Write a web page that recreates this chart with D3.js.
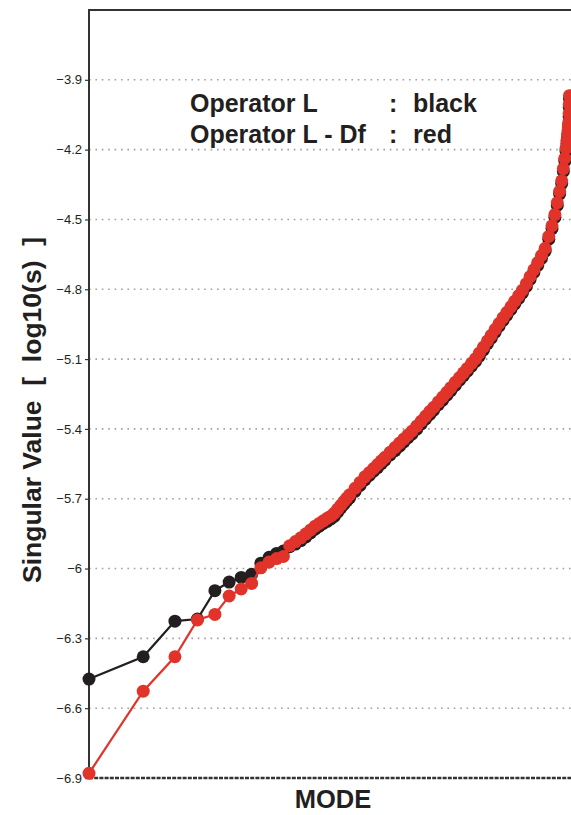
<!DOCTYPE html>
<html><head><meta charset="utf-8">
<script src="https://cdn.jsdelivr.net/npm/d3@7"></script>
<style>html,body{margin:0;padding:0;background:#fff;} svg{display:block;}</style>
</head><body>
<svg id="chart" width="571" height="815"></svg>
<script>
const modes = [1,2,3,4,5,6,7,8,9,10,11,12,13,14,15,16,17,18,19,20,21,22,23,24,25,26,27,28,
  30,32,34,36,38,40,42,44,47,50,53,56,59,62,66,70,74,78,82,87,92,97,102,108,114,120,126,133,140,147,
  155,163,171,180,189,199,209,220,231,243,255,268,281,295,310,325,341,357,372,386,
  398,410,421,430,438,445,450,454,457,459,461,462,463,464,465];

const blackValues = [-6.475,-6.379,-6.226,-6.217,-6.095,-6.058,-6.038,-6.024,-5.977,-5.952,-5.935,-5.925,-5.906,-5.895,-5.880,-5.864,-5.847,-5.831,-5.818,-5.806,-5.797,-5.787,-5.776,-5.758,-5.740,-5.724,-5.709,-5.696,
  -5.668,-5.643,-5.619,-5.600,-5.582,-5.566,-5.549,-5.534,-5.512,-5.493,-5.474,-5.456,-5.438,-5.423,-5.401,-5.378,-5.357,-5.338,-5.319,-5.296,-5.276,-5.255,-5.236,-5.213,-5.191,-5.171,-5.152,-5.130,-5.110,-5.087,
  -5.060,-5.034,-5.010,-4.984,-4.959,-4.934,-4.911,-4.887,-4.863,-4.839,-4.816,-4.788,-4.758,-4.728,-4.697,-4.667,-4.636,-4.585,-4.539,-4.491,
  -4.440,-4.391,-4.346,-4.294,-4.249,-4.206,-4.175,-4.148,-4.129,-4.113,-4.100,-4.090,-4.058,-4.018,-3.980];

const redValues = [-6.880,-6.527,-6.379,-6.221,-6.197,-6.118,-6.088,-6.064,-5.997,-5.972,-5.957,-5.948,-5.902,-5.884,-5.868,-5.851,-5.834,-5.818,-5.806,-5.795,-5.784,-5.775,-5.762,-5.745,-5.728,-5.712,-5.697,-5.683,
  -5.655,-5.630,-5.606,-5.588,-5.570,-5.553,-5.537,-5.522,-5.500,-5.480,-5.461,-5.443,-5.426,-5.410,-5.388,-5.366,-5.345,-5.325,-5.307,-5.284,-5.263,-5.243,-5.223,-5.200,-5.179,-5.159,-5.140,-5.118,-5.098,-5.074,
  -5.048,-5.022,-4.998,-4.972,-4.947,-4.922,-4.899,-4.875,-4.851,-4.827,-4.804,-4.776,-4.746,-4.716,-4.685,-4.655,-4.624,-4.573,-4.527,-4.479,
  -4.428,-4.379,-4.334,-4.282,-4.237,-4.194,-4.163,-4.137,-4.118,-4.102,-4.091,-4.080,-4.045,-4.005,-3.968];

const yTicks = [-3.9,-4.2,-4.5,-4.8,-5.1,-5.4,-5.7,-6.0,-6.3,-6.6,-6.9];
const legendNames = ["Operator L", "Operator L - Df"];
const legendColours = ["black", "red"];
const xTitle = "MODE";
const yTitle = "Singular Value  [  log10(s)  ]";

const svg = d3.select("#chart");
const L = 89, T = 10, B = 778, R = 577;
const x = d3.scaleLog().domain([1, 512]).range([L, R]);
const y = d3.scaleLinear().domain([-6.9, -3.6]).range([B, T]);
const font = "'Liberation Sans', Arial, Helvetica, sans-serif";
const ink = "#231f20";
const redC = "#e1332a";

// grid
svg.append("g").selectAll("line").data(yTicks.filter(d => d > -6.85)).join("line")
  .attr("x1", L).attr("x2", R).attr("y1", d => y(d)).attr("y2", d => y(d))
  .attr("stroke", "#a0a0a0").attr("stroke-width", 1.6).attr("stroke-dasharray", "1.6,4.8");

// y axis
const fmt = v => Math.abs(v - Math.round(v)) < 1e-9 ? d3.format("d")(v) : d3.format(".1f")(v);
const ax = svg.append("g").attr("transform", `translate(${L},0)`)
  .call(d3.axisLeft(y).tickValues(yTicks).tickSize(4).tickPadding(3).tickFormat(fmt));
ax.select(".domain").remove();
ax.selectAll(".tick line").attr("stroke", "#333").attr("stroke-width", 1.2);
ax.selectAll(".tick text").attr("font-family", font).attr("font-size", 13).attr("fill", ink);

// frame
svg.append("line").attr("x1", L).attr("x2", L).attr("y1", T - 1).attr("y2", B).attr("stroke", "#333").attr("stroke-width", 2);
svg.append("line").attr("x1", L - 1).attr("x2", R).attr("y1", T).attr("y2", T).attr("stroke", "#333").attr("stroke-width", 2);
svg.append("line").attr("x1", L).attr("x2", R).attr("y1", B).attr("y2", B).attr("stroke", "#333").attr("stroke-width", 2.4).attr("stroke-dasharray", "4,1.2");

// series
const series = [
  {vals: blackValues, col: ink},
  {vals: redValues, col: redC}
];
const line = d3.line().x(d => x(d[0])).y(d => y(d[1]));
series.forEach(s => {
  const pts = modes.map((m, i) => [m, s.vals[i]]);
  const g = svg.append("g");
  g.append("path").datum(pts).attr("d", line).attr("fill", "none").attr("stroke", s.col).attr("stroke-width", 2.2);
  g.selectAll("circle").data(pts).join("circle")
    .attr("cx", d => x(d[0])).attr("cy", d => y(d[1])).attr("r", 6.5).attr("fill", s.col);
});

// legend
const lg = svg.append("g").attr("font-family", font).attr("font-weight", "bold").attr("font-size", 25).attr("fill", ink);
legendNames.forEach((n, i) => {
  const by = 111.5 + i * 31.5;
  lg.append("text").attr("x", 190).attr("y", by).text(n);
  lg.append("text").attr("x", 389).attr("y", by).text(":");
  lg.append("text").attr("x", 413).attr("y", by).text(legendColours[i]);
});

// titles
svg.append("text").attr("x", 333).attr("y", 808).attr("text-anchor", "middle")
  .attr("font-family", font).attr("font-weight", "bold").attr("font-size", 25.5).attr("fill", ink).text(xTitle);
svg.append("text").attr("transform", "translate(41,410) rotate(-90)").attr("text-anchor", "middle")
  .attr("font-family", font).attr("font-weight", "bold").attr("font-size", 26.5).attr("fill", ink)
  .style("white-space", "pre").text(yTitle);
</script>
</body></html>
